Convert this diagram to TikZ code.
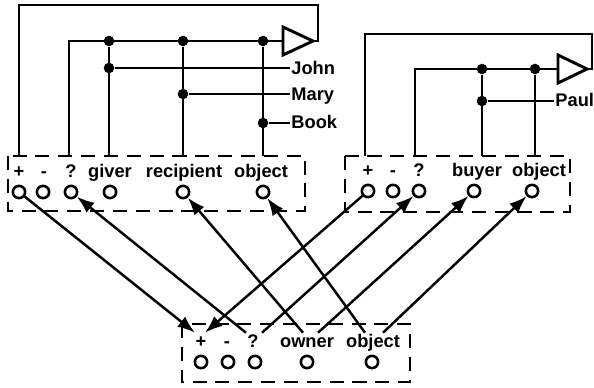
\documentclass[tikz,border=0pt]{standalone}
\usepackage{fontspec}
\setmainfont{Liberation Sans}
\usetikzlibrary{arrows.meta}
\tikzset{
  port/.style={circle, draw, line width=2.2pt, minimum size=10.5pt, inner sep=0pt},
  dot/.style={circle, fill, inner sep=0pt, minimum size=9pt},
  wire/.style={line width=2.5pt},
  link/.style={-{Latex[length=15pt,width=11pt]}, line width=2.1pt},
  frame/.style={line width=1.3pt, dash pattern=on 12pt off 7.5pt},
  lbl/.style={font=\fontsize{15.6}{18}\selectfont\bfseries, inner sep=1pt,
              text height=11pt, text depth=3pt, anchor=base},
  nm/.style={lbl, anchor=west}
}
\begin{document}
\begin{tikzpicture}[x=0.03cm, y=-0.03cm]
  \useasboundingbox (0,0) rectangle (594,387);
  % frames
  \draw[frame] (8,156) rectangle (305,211);
  \draw[frame] (345,156) rectangle (570,212);
  \draw[frame] (182,324) rectangle (410,382);
  % left frame
  \node[lbl] (lpT) at (19,177) {+};
  \node[lbl] (lmT) at (44,177) {-};
  \node[lbl] (lqT) at (71,177) {?};
  \node[lbl] (lgT) at (110,177) {giver};
  \node[lbl] (lrT) at (184,177) {recipient};
  \node[lbl] (loT) at (261,177) {object};
  \node[port] (lp) at (19,192) {};
  \node[port] (lm) at (43,192) {};
  \node[port] (lq) at (71,192) {};
  \node[port] (lg) at (110,192) {};
  \node[port] (lr) at (183,192) {};
  \node[port] (lo) at (263,192) {};
  % right frame
  \node[lbl] (rpT) at (368,176) {+};
  \node[lbl] (rmT) at (393,176) {-};
  \node[lbl] (rqT) at (419,176) {?};
  \node[lbl] (rbT) at (477,176) {buyer};
  \node[lbl] (roT) at (539,176) {object};
  \node[port] (rp) at (368,191) {};
  \node[port] (rm) at (393,191) {};
  \node[port] (rq) at (419,191) {};
  \node[port] (rb) at (474,191) {};
  \node[port] (ro) at (532,191) {};
  % bottom frame
  \node[lbl] (bpT) at (201,347) {+};
  \node[lbl] (bmT) at (227,347) {-};
  \node[lbl] (bqT) at (253,347) {?};
  \node[lbl] (bwT) at (307,347) {owner};
  \node[lbl] (boT) at (373,347) {object};
  \node[port] (bp) at (201,362) {};
  \node[port] (bm) at (228,362) {};
  \node[port] (bq) at (255,362) {};
  \node[port] (bw) at (307,362) {};
  \node[port] (bo) at (372,362) {};
  % left triangle and wires
  \draw[wire] (283,27) -- (313,41) -- (283,55) -- cycle;
  \coordinate (ampLin) at (283,41);
  \coordinate (ampLout) at (313,41);
  \coordinate (lpTop) at (19,156);
  \coordinate (lqTop) at (69,156);
  \node[dot] (dg) at (109,41) {};
  \node[dot] (dr) at (183,41) {};
  \node[dot] (dob) at (263,41) {};
  \node[dot] (dj) at (109,68) {};
  \node[dot] (dm) at (183,94) {};
  \node[dot] (dk) at (263,123) {};
  \node[nm] (john) at (290,70) {John};
  \node[nm] (mary) at (290,96) {Mary};
  \node[nm] (book) at (290,124) {Book};
  \draw[wire] (lpTop) |- (318,5) |- (ampLout);
  \draw[wire] (lqTop) |- (ampLin);
  \draw[wire] (dg) -- (109,156);
  \draw[wire] (dr) -- (183,156);
  \draw[wire] (dob) -- (263,156);
  \draw[wire] (dj) -- (dj -| john.west);
  \draw[wire] (dm) -- (dm -| mary.west);
  \draw[wire] (dk) -- (dk -| book.west);
  % right triangle and wires
  \draw[wire] (558,55) -- (587,69) -- (558,83) -- cycle;
  \coordinate (ampRin) at (558,69);
  \coordinate (ampRout) at (587,69);
  \coordinate (rpTop) at (365,156);
  \coordinate (rqTop) at (415,156);
  \node[dot] (db) at (482,69) {};
  \node[dot] (dro) at (535,69) {};
  \node[dot] (dp) at (482,101) {};
  \node[nm] (paul) at (554,102) {Paul};
  \draw[wire] (rpTop) |- (592,34) |- (ampRout);
  \draw[wire] (rqTop) |- (ampRin);
  \draw[wire] (db) -- (482,156);
  \draw[wire] (dro) -- (535,156);
  \draw[wire] (dp) -- (dp -| paul.west);
  % links between frames
  \draw[link] (lp) -- ([xshift=-0.18cm]bpT.north);
  \draw[link] (rp) -- ([xshift=0.12cm]bpT.north);
  \draw[link] ([xshift=-0.21cm]bqT.north) -- (lq);
  \draw[link] ([xshift=0.27cm]bqT.north) -- (rq);
  \draw[link] ([xshift=-0.12cm]bwT.north) -- (lr);
  \draw[link] ([xshift=0.33cm]bwT.north) -- (rb);
  \draw[link] ([xshift=-0.24cm]boT.north) -- (lo);
  \draw[link] ([xshift=0.3cm]boT.north) -- (ro);
\end{tikzpicture}
\end{document}
